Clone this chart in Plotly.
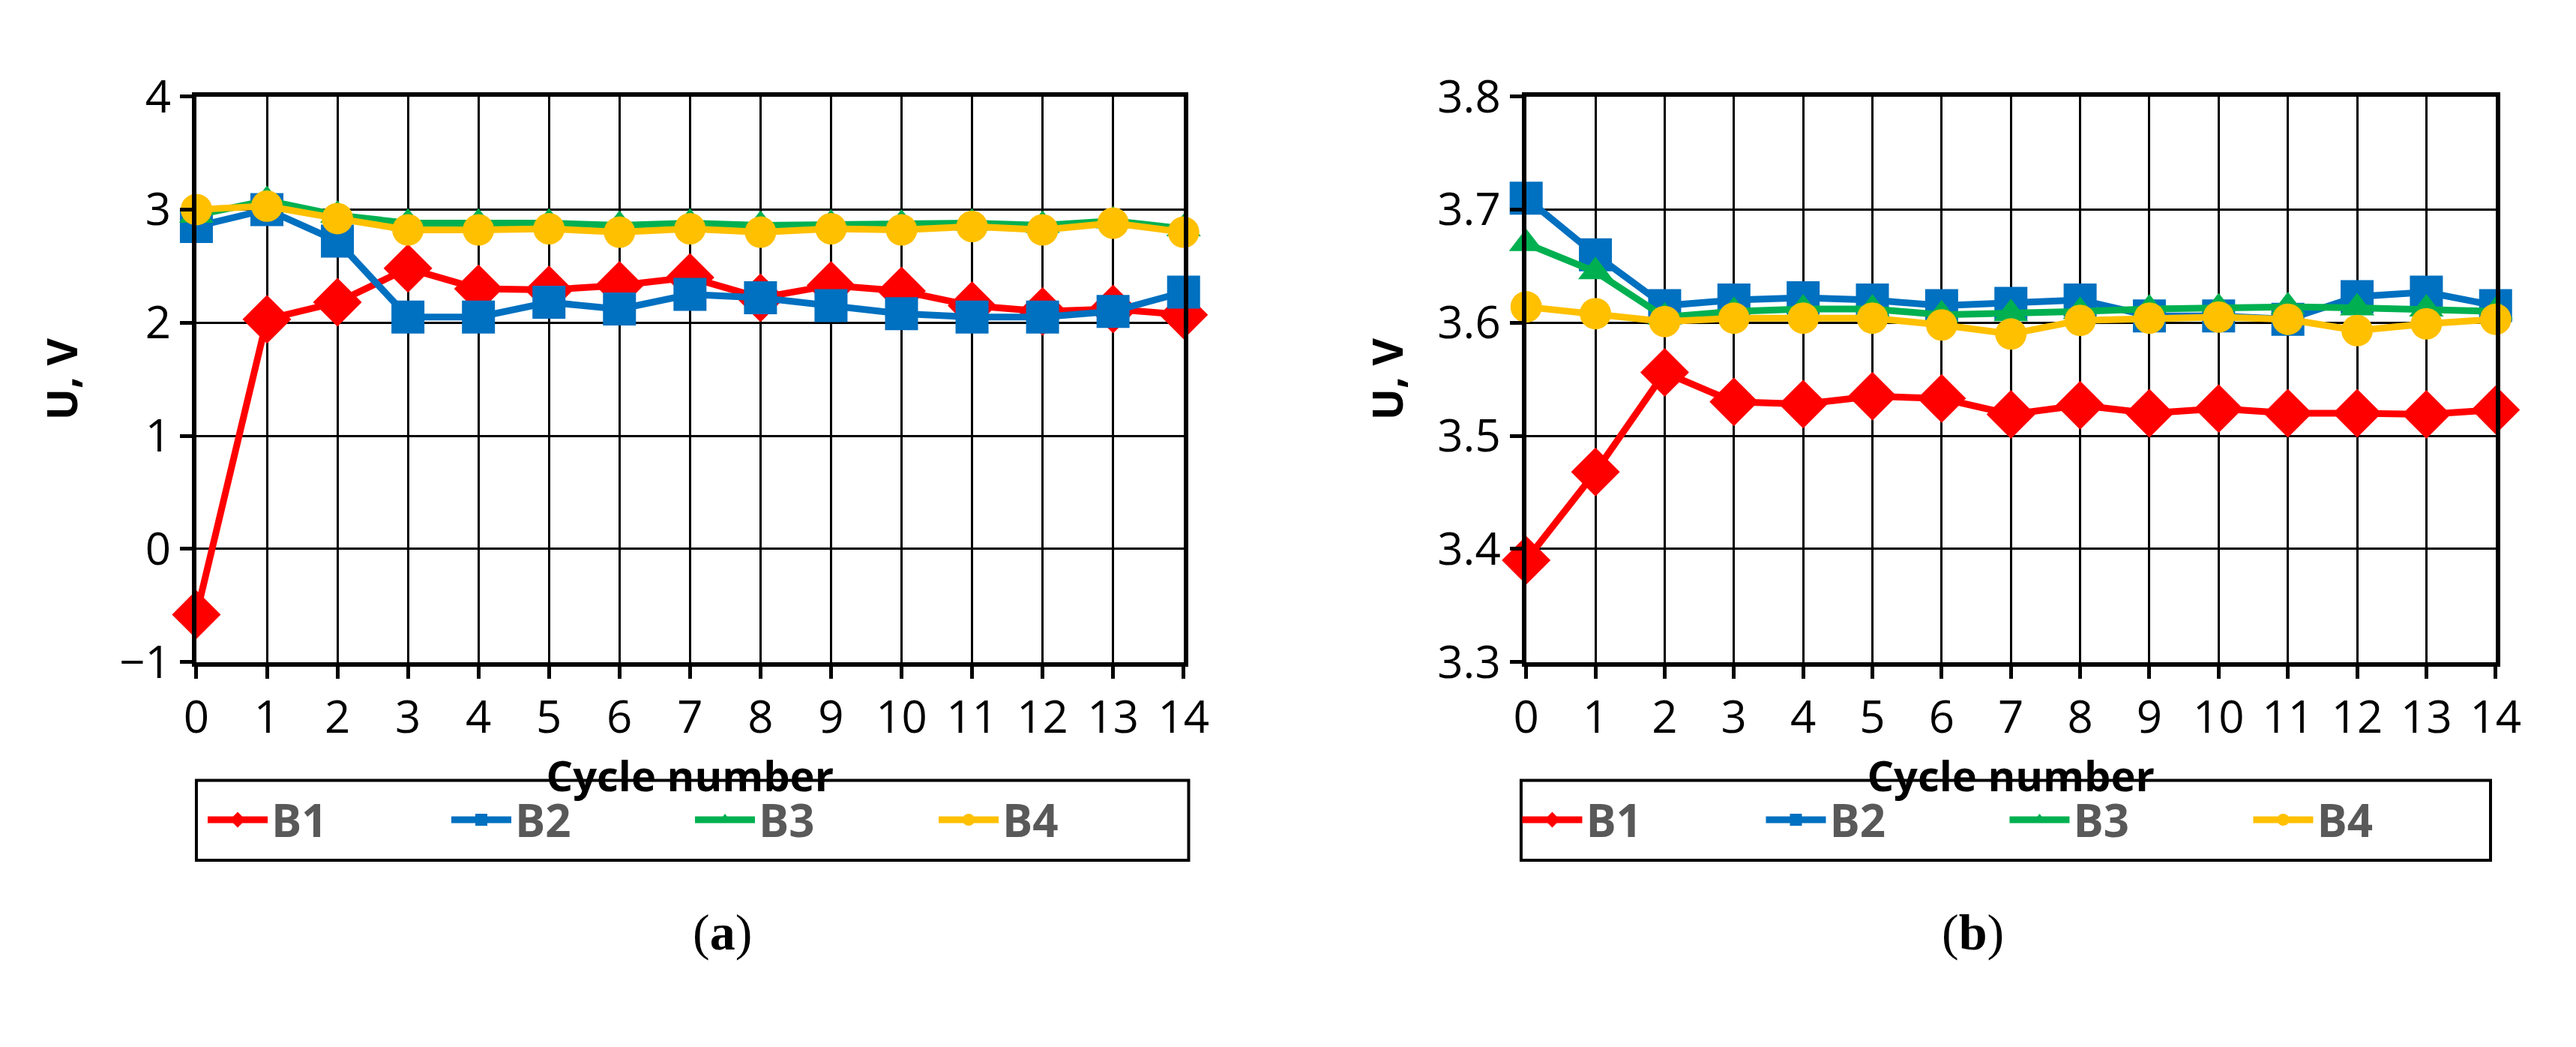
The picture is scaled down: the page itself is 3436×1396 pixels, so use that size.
import plotly.graph_objects as go
from plotly.subplots import make_subplots

cycles = list(range(15))

# panel (a)
a_b1 = [-0.58, 2.03, 2.18, 2.48, 2.30, 2.29, 2.33, 2.40, 2.22, 2.33, 2.28, 2.15, 2.10, 2.12, 2.07]
a_b2 = [2.85, 3.00, 2.72, 2.05, 2.05, 2.18, 2.12, 2.25, 2.22, 2.15, 2.08, 2.05, 2.05, 2.10, 2.27]
a_b3 = [2.95, 3.08, 2.95, 2.88, 2.88, 2.88, 2.86, 2.88, 2.86, 2.87, 2.87, 2.88, 2.86, 2.90, 2.83]
a_b4 = [3.00, 3.03, 2.92, 2.82, 2.82, 2.83, 2.80, 2.83, 2.80, 2.83, 2.82, 2.85, 2.82, 2.88, 2.80]

# panel (b)
b_b1 = [3.390, 3.468, 3.556, 3.530, 3.528, 3.535, 3.533, 3.519, 3.527, 3.520, 3.524, 3.520, 3.520, 3.519, 3.523]
b_b2 = [3.710, 3.660, 3.615, 3.620, 3.622, 3.620, 3.615, 3.617, 3.620, 3.606, 3.606, 3.603, 3.623, 3.627, 3.615]
b_b3 = [3.670, 3.645, 3.605, 3.610, 3.612, 3.612, 3.607, 3.608, 3.610, 3.612, 3.613, 3.614, 3.613, 3.612, 3.610]
b_b4 = [3.614, 3.608, 3.601, 3.604, 3.604, 3.604, 3.598, 3.590, 3.602, 3.604, 3.605, 3.603, 3.593, 3.599, 3.603]

names = ["B1", "B2", "B3", "B4"]
colors = ["#FF0000", "#0070C0", "#00B050", "#FFC000"]
symbols = ["diamond", "square", "triangle-up", "circle"]
sizes = [50, 44, 40, 42]
FONT = "Open Sans, Liberation Sans, Arial"

fig = make_subplots(rows=1, cols=2)

for col, series, leg in [(1, [a_b1, a_b2, a_b3, a_b4], "legend"),
                         (2, [b_b1, b_b2, b_b3, b_b4], "legend2")]:
    for name, ys, c, s, sz in zip(names, series, colors, symbols, sizes):
        fig.add_trace(go.Scatter(
            x=cycles, y=ys, name="<b>%s</b>" % name, mode="lines+markers",
            line=dict(color=c, width=9),
            marker=dict(symbol=s, size=sz, color=c),
            legend=leg, cliponaxis=False,
        ), row=1, col=col)

axis_common = dict(
    showgrid=True, gridcolor="black", gridwidth=3,
    showline=True, linecolor="black", linewidth=6, mirror=True,
    ticks="outside", ticklen=16, tickwidth=5, tickcolor="black",
    tickfont=dict(size=60, family=FONT, color="black"),
    zeroline=False,
)
title_font = dict(size=56, family=FONT, color="black")
for col in (1, 2):
    fig.update_xaxes(axis_common, range=[0, 14], dtick=1, row=1, col=col,
                     title=dict(text="<b>Cycle number</b>", standoff=0, font=title_font))
fig.update_yaxes(axis_common, range=[-1, 4], dtick=1, row=1, col=1,
                 title=dict(text="<b>U, V</b>", standoff=40, font=title_font))
fig.update_yaxes(axis_common, range=[3.3, 3.8], dtick=0.1, tickformat=".1f", row=1, col=2,
                 title=dict(text="<b>U, V</b>", standoff=30, font=title_font))

leg_common = dict(orientation="h", xanchor="center", y=0.207, yanchor="middle",
                  font=dict(size=60, family=FONT, color="#595959"),
                  entrywidth=230, itemwidth=80, bgcolor="rgba(0,0,0,0)")

fig.update_layout(
    width=3436, height=1396, margin=dict(l=0, r=0, t=0, b=0),
    paper_bgcolor="white", plot_bgcolor="white", showlegend=True,
    xaxis=dict(domain=[0.070, 0.459]),
    xaxis2=dict(domain=[0.594, 0.976]),
    yaxis=dict(domain=[0.367, 0.941]),
    yaxis2=dict(domain=[0.367, 0.941]),
    legend=dict(leg_common, x=0.265),
    legend2=dict(leg_common, x=0.783),
    shapes=[
        dict(type="rect", xref="paper", yref="paper", x0=0.070, x1=0.461, y0=0.166, y1=0.247,
             line=dict(color="black", width=4)),
        dict(type="rect", xref="paper", yref="paper", x0=0.592, x1=0.974, y0=0.166, y1=0.247,
             line=dict(color="black", width=4)),
    ],
    annotations=[
        dict(text="(<b>a</b>)", x=0.265, y=0.0625, xref="paper", yref="paper", showarrow=False,
             font=dict(size=68, family="Liberation Serif, serif", color="black")),
        dict(text="(<b>b</b>)", x=0.783, y=0.0625, xref="paper", yref="paper", showarrow=False,
             font=dict(size=68, family="Liberation Serif, serif", color="black")),
    ],
)

fig.write_html("out.html")
